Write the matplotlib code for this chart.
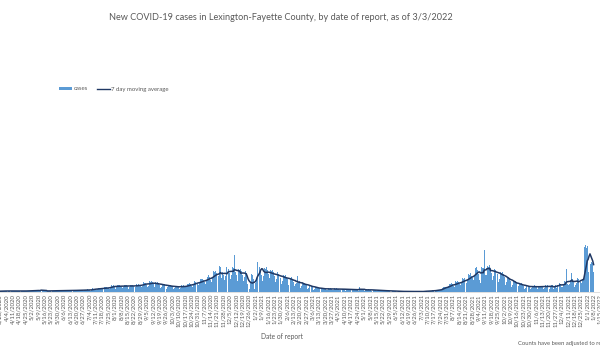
import matplotlib
matplotlib.use("Agg")
import matplotlib.pyplot as plt
import matplotlib.dates as mdates
from matplotlib.patches import Patch
from matplotlib.lines import Line2D
import pandas as pd

# ---- chart text -------------------------------------------------------------
title = "New COVID-19 cases in Lexington-Fayette County, by date of report, as of 3/3/2022"
x_label = "Date of report"
footnote = "Counts have been adjusted to remove duplicate reports"
series_names = ["cases", "7 day moving average"]

# ---- data: new cases per report day, one row per week (Sun..Sat) -------------
first_report_day = "2020-03-15"
daily_cases = [
    2, 3, 6, 6, 7, 6, 5,
    5, 6, 9, 10, 10, 9, 7,
    6, 8, 12, 11, 13, 11, 9,
    5, 9, 13, 11, 12, 12, 8,
    7, 8, 11, 12, 13, 10, 9,
    6, 8, 12, 11, 12, 11, 10,
    7, 9, 14, 15, 13, 14, 12,
    9, 12, 17, 18, 16, 20, 13,
    7, 10, 45, 14, 12, 10, 9,
    6, 9, 14, 15, 13, 14, 10,
    7, 8, 15, 14, 14, 13, 11,
    8, 11, 16, 17, 16, 15, 13,
    9, 12, 18, 17, 19, 16, 14,
    10, 13, 19, 20, 18, 18, 15,
    11, 14, 22, 21, 23, 19, 17,
    12, 16, 25, 24, 26, 21, 16,
    14, 20, 36, 34, 35, 33, 24,
    20, 28, 42, 41, 44, 38, 32,
    24, 32, 48, 47, 50, 44, 38,
    33, 44, 66, 63, 68, 60, 52,
    35, 46, 70, 67, 72, 63, 55,
    36, 48, 74, 69, 71, 66, 57,
    34, 50, 72, 70, 75, 65, 56,
    38, 52, 80, 75, 82, 70, 60,
    48, 64, 96, 92, 98, 88, 74,
    50, 62, 108, 105, 110, 97, 84,
    47, 64, 98, 92, 96, 88, 75,
    40, 54, 82, 78, 84, 74, 64,
    35, 46, 70, 66, 72, 64, 53,
    31, 42, 62, 60, 65, 57, 47,
    33, 44, 66, 63, 68, 60, 51,
    42, 56, 84, 80, 86, 77, 65,
    54, 72, 108, 104, 110, 99, 83,
    66, 88, 132, 127, 135, 121, 101,
    81, 108, 162, 155, 166, 148, 125,
    105, 140, 210, 201, 215, 192, 162,
    120, 160, 260, 250, 140, 200, 170,
    123, 164, 246, 236, 252, 226, 190,
    126, 168, 250, 240, 370, 200, 170,
    114, 152, 228, 219, 234, 209, 174,
    110, 150, 210, 190, 80, 20, 40,
    30, 100, 180, 170, 130, 30, 90,
    130, 300, 300, 270, 250, 210, 170,
    110, 160, 240, 230, 250, 220, 180,
    108, 144, 216, 207, 222, 198, 165,
    96, 128, 200, 184, 195, 176, 141,
    84, 112, 168, 161, 172, 154, 129,
    72, 96, 150, 138, 148, 130, 96,
    57, 76, 90, 160, 90, 110, 82,
    45, 60, 90, 86, 92, 82, 70,
    33, 44, 66, 63, 68, 60, 51,
    24, 32, 48, 46, 50, 44, 36,
    19, 26, 38, 37, 40, 35, 29,
    18, 24, 36, 34, 37, 33, 28,
    18, 24, 36, 35, 37, 32, 28,
    17, 22, 34, 32, 35, 31, 25,
    15, 20, 30, 29, 31, 28, 22,
    14, 18, 28, 27, 29, 25, 20,
    13, 50, 26, 25, 27, 24, 19,
    13, 18, 26, 25, 27, 24, 21,
    11, 14, 22, 21, 23, 20, 15,
    8, 11, 17, 16, 18, 15, 13,
    7, 10, 14, 14, 15, 13, 11,
    4, 3, 11, 10, 11, 9, 8,
    3, 5, 7, 7, 8, 6, 6,
    3, 4, 6, 6, 7, 5, 4,
    2, 4, 6, 7, 6, 6, 4,
    3, 4, 6, 7, 6, 6, 3,
    2, 4, 12, 11, 12, 10, 5,
    6, 9, 15, 15, 16, 14, 9,
    12, 16, 24, 23, 25, 22, 18,
    27, 36, 54, 52, 56, 50, 40,
    42, 56, 84, 80, 87, 77, 64,
    54, 72, 108, 104, 112, 99, 81,
    69, 92, 138, 132, 143, 127, 104,
    90, 120, 180, 172, 186, 165, 137,
    120, 160, 240, 230, 248, 220, 182,
    120, 90, 250, 245, 240, 420, 175,
    129, 172, 258, 247, 267, 237, 195,
    117, 156, 234, 224, 242, 215, 177,
    99, 132, 198, 190, 205, 182, 149,
    75, 100, 150, 144, 155, 138, 113,
    54, 72, 108, 104, 112, 99, 81,
    42, 56, 84, 80, 87, 77, 64,
    33, 44, 66, 63, 68, 60, 51,
    32, 42, 64, 61, 66, 58, 48,
    30, 44, 62, 63, 64, 60, 48,
    33, 44, 66, 63, 68, 60, 51,
    35, 48, 70, 68, 30, 64, 70,
    42, 75, 84, 80, 87, 69, 53,
    55, 75, 110, 105, 230, 85, 70,
    60, 82, 120, 190, 130, 100, 53,
    69, 92, 138, 132, 143, 127, 104,
    90, 130, 140, 450, 470, 440, 460,
    200, 350, 300, 280, 300, 290, 200,
]

# weekly date labels on the category axis
first_tick_day = "2020-03-28"
last_tick_day = "2022-01-15"
tick_step = "7D"

# ---- styling ------------------------------------------------------------------
BAR_COLOR = "#5B9BD5"
LINE_COLOR = "#203864"
TEXT_COLOR = "#595959"
FONT = ["Lato", "DejaVu Sans"]
plt.rcParams["font.family"] = FONT

dates = pd.date_range(first_report_day, periods=len(daily_cases), freq="D")
cases = pd.Series(daily_cases, index=dates)
moving_avg = cases.rolling(7).mean()

fig = plt.figure(figsize=(6, 3.5), dpi=100)
ax = fig.add_axes([0.0, 58 / 350, 1.0, 192 / 350])

ax.bar(mdates.date2num(dates), cases.values, width=0.95, color=BAR_COLOR,
       linewidth=0, align="center", zorder=2)
ax.plot(mdates.date2num(dates), moving_avg.values, color=LINE_COLOR,
        linewidth=1.1, zorder=3)

# visible window of the date axis
anchor = mdates.date2num(pd.Timestamp("2020-04-04"))
px_per_day = 0.928
left = anchor - 3.5 / px_per_day
ax.set_xlim(left, left + 600 / px_per_day)
ax.set_ylim(0, 1920)

ticks = pd.date_range(first_tick_day, last_tick_day, freq=tick_step)
ax.set_xticks(mdates.date2num(ticks))
ax.set_xticklabels([f"{d.month}/{d.day}/{d.year}" for d in ticks],
                   rotation=90, fontsize=4.3, color=TEXT_COLOR)
ax.tick_params(axis="x", length=0, pad=1.5)
ax.set_yticks([])

for side in ("left", "right", "top"):
    ax.spines[side].set_visible(False)
ax.spines["bottom"].set_color("#D9D9D9")
ax.spines["bottom"].set_linewidth(0.6)
ax.set_facecolor("none")

fig.text(281 / 600, 1 - 17 / 350, title, ha="center", va="center",
         fontsize=6.6, color=TEXT_COLOR)
fig.text(282 / 600, 1 - 337 / 350, x_label, ha="center", va="center",
         fontsize=4.8, color=TEXT_COLOR)
fig.text(518 / 600, 1 - 343 / 350, footnote, ha="left", va="center",
         fontsize=4.2, color=TEXT_COLOR)

handles = [Patch(facecolor=BAR_COLOR, edgecolor="none"),
           Line2D([], [], color=LINE_COLOR, linewidth=1.0)]
fig.legend(handles, series_names, loc="center left",
           bbox_to_anchor=(59 / 600, 1 - 89 / 350), ncol=2, frameon=False,
           fontsize=4.3, labelcolor=TEXT_COLOR, handlelength=2.2,
           handleheight=0.5, handletextpad=0.3, columnspacing=1.4,
           borderpad=0, borderaxespad=0)

fig.savefig("out.png", dpi=100)
